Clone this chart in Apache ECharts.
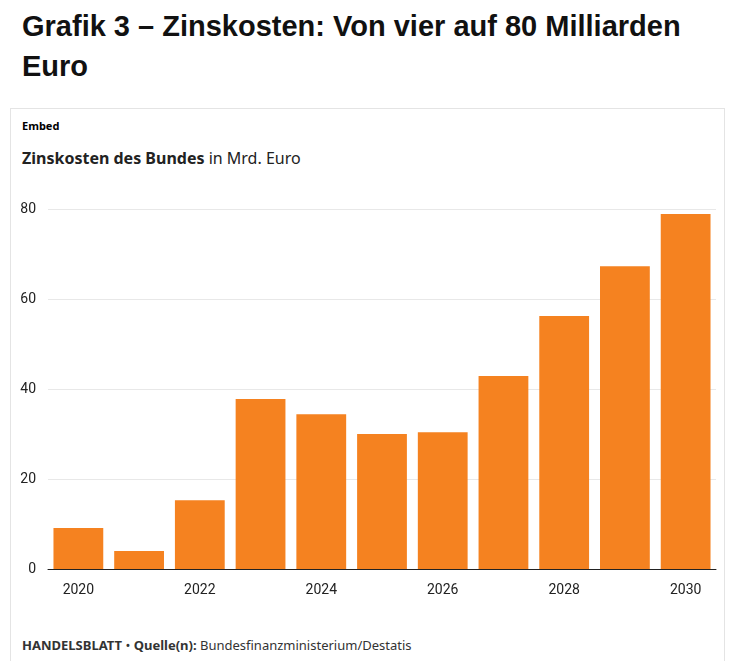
<!DOCTYPE html>
<html lang="de">
<head>
<meta charset="UTF-8">
<style>
  * { margin: 0; padding: 0; box-sizing: border-box; }
  body { font-family: "Liberation Sans", Arial, sans-serif; background: #fff; width: 733px; height: 661px; overflow: hidden; }
  h1 { position: absolute; left: 22px; top: 6px; font-size: 29px; line-height: 40px; font-weight: bold; color: #111; width: 700px; }
  #box { position: absolute; left: 10px; top: 108px; width: 715px; height: 560px; border: 1px solid #e4e4e4; }
  #embed { position: absolute; left: 11px; top: 9px; font-size: 11px; font-weight: bold; font-family: "Noto Sans", sans-serif; }
  #sub { position: absolute; left: 11px; top: 38px; font-size: 16px; font-family: "Noto Sans", sans-serif; color: #222; }
  #chart { position: absolute; left: 0; top: 80px; width: 715px; height: 430px; }
  #src { position: absolute; left: 11px; top: 527px; font-size: 13px; font-family: "Noto Sans", sans-serif; color: #333; }
</style>
<script src="https://cdn.jsdelivr.net/npm/echarts@6/dist/echarts.min.js"></script>
</head>
<body>
<h1>Grafik 3 – Zinskosten: Von vier auf 80 Milliarden Euro</h1>
<div id="box">
  <div id="embed">Embed</div>
  <div id="sub"><b>Zinskosten des Bundes</b> in Mrd. Euro</div>
  <div id="chart"></div>
  <div id="src"><b>HANDELSBLATT</b> • <b>Quelle(n):</b> Bundesfinanzministerium/Destatis</div>
</div>
<script>
const years = ['2020', '2021', '2022', '2023', '2024', '2025', '2026', '2027', '2028', '2029', '2030'];
const zinskosten = [9.1, 4.0, 15.3, 37.8, 34.4, 30.0, 30.4, 42.9, 56.2, 67.3, 78.9];

const chart = echarts.init(document.getElementById('chart'));
chart.setOption({
  animation: false,
  grid: { left: 37, right: 10, top: 20, bottom: 50 },
  xAxis: {
    type: 'category',
    data: years,
    axisTick: { show: false },
    axisLine: { lineStyle: { color: '#222' } },
    axisLabel: {
      color: '#222', fontSize: 14, fontFamily: 'Roboto', margin: 14,
      interval: 0,
      formatter: (v, i) => (i % 2 === 0 ? v : '')
    }
  },
  yAxis: {
    type: 'value', min: 0, max: 80, interval: 20,
    axisLabel: { color: '#222', fontSize: 14, fontFamily: 'Roboto', margin: 12 },
    splitLine: { lineStyle: { color: '#e8e8e8' } }
  },
  series: [{
    type: 'bar',
    data: zinskosten,
    barCategoryGap: '18%',
    itemStyle: { color: '#f58220' }
  }]
});
</script>
</body>
</html>
